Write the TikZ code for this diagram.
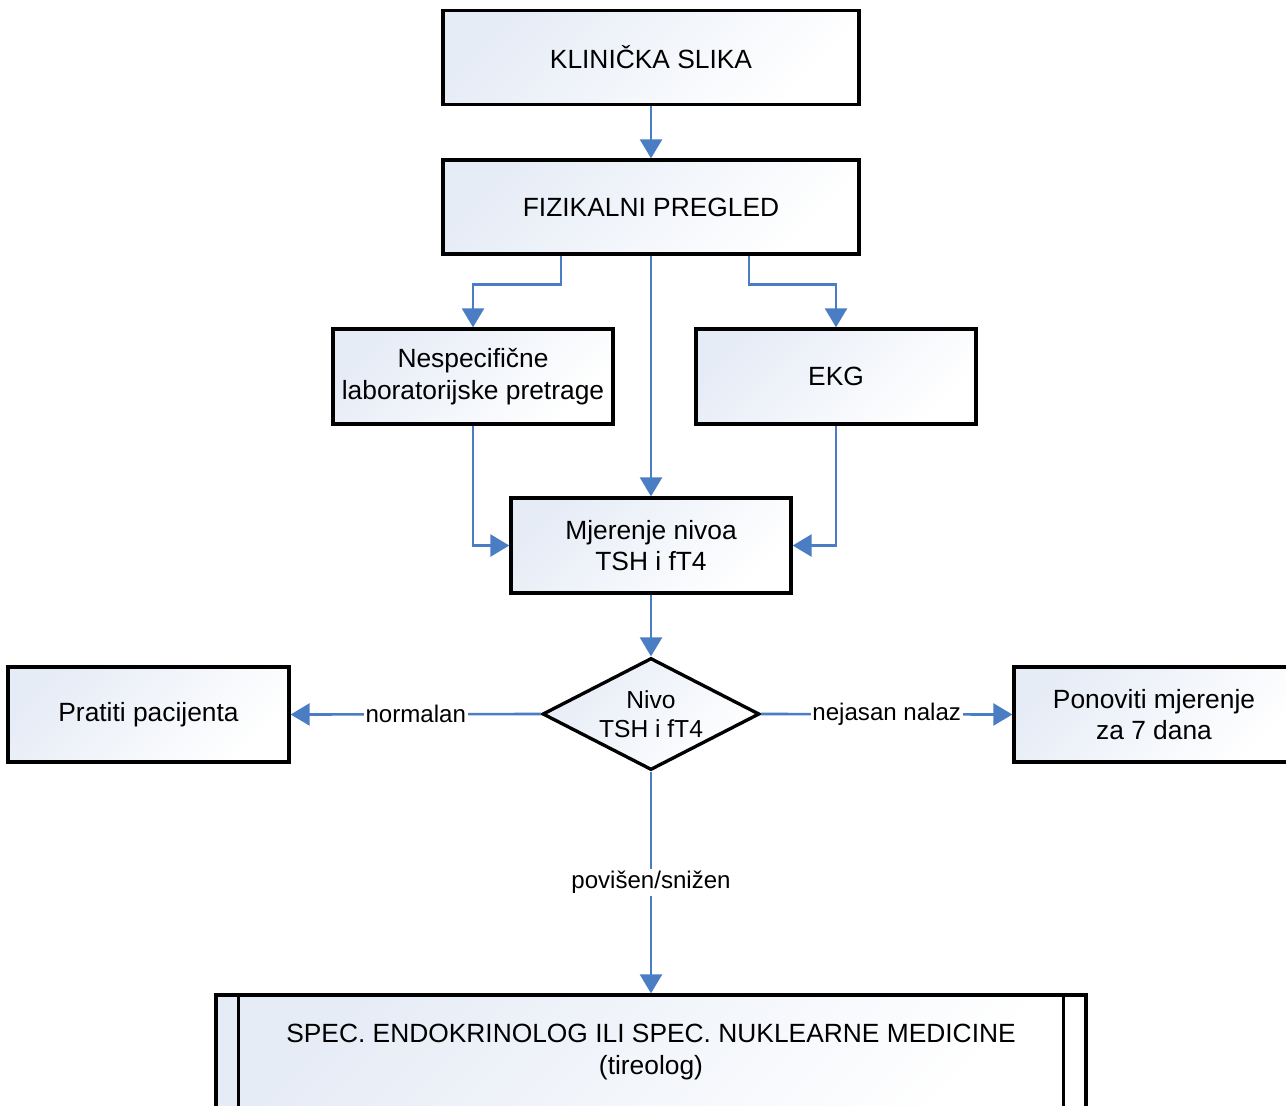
\documentclass[tikz,border=0pt]{standalone}
\usepackage{fontspec}
\setmainfont{Liberation Sans}
\usepackage{xcolor}
\usetikzlibrary{arrows.meta, shapes.geometric, calc}
\definecolor{flow-blue}{HTML}{4A7DC4}
\definecolor{box-fill}{HTML}{E6ECF6}

\begin{document}
\begin{tikzpicture}[
      every node/.style={font=\fontsize{15}{18}\selectfont},
      box/.style={draw=black, line width=1.9pt, rectangle, align=center,
          top color=box-fill, bottom color=white, shading angle=45,
          minimum width=5.6cm, minimum height=1.9cm},
      wide/.style={box, minimum width=8.32cm, minimum height=1.88cm},
      decision/.style={draw=black, line width=1.9pt, diamond, align=center,
          top color=box-fill, bottom color=white, shading angle=45,
          font=\fontsize{14}{16.5}\selectfont,
          inner sep=0pt, aspect=1.94, minimum width=4.34cm, minimum height=2.24cm},
      arr/.style={draw=flow-blue, line width=1.5pt,
          -{Triangle[width=0.44cm, length=0.38cm]}},
      lbl/.style={fill=white, inner sep=1pt,
          font=\fontsize{13.7}{16}\selectfont}]
    \clip (0,0) rectangle (25.72,-22.1);
    \node[wide] (KLIN) at (13.02,-1.15) {KLINIČKA SLIKA};
    \node[wide] (FIZ) at (13.02,-4.14) {FIZIKALNI PREGLED};
    \node[box] (NESP) at (9.46,-7.53) {Nespecifične\\laboratorijske pretrage};
    \node[box] (EKG) at (16.72,-7.53) {EKG};
    \node[box] (MJER) at (13.02,-10.91) {Mjerenje nivoa\\TSH i fT4};
    \node[decision] (NIVO) at (13.02,-14.28) {Nivo\\TSH i fT4};
    \node[box, minimum width=5.62cm] (PRAT) at (2.97,-14.29) {Pratiti pacijenta};
    \node[box] (PON) at (23.08,-14.29) {Ponoviti mjerenje\\za 7 dana};
    \node[box, minimum width=17.4cm, minimum height=2.28cm] (SPEC) at (13.02,-21.04)
          {SPEC. ENDOKRINOLOG ILI SPEC. NUKLEARNE MEDICINE\\(tireolog)};
    \draw[line width=1.9pt] ([xshift=0.48cm]SPEC.north west) -- ([xshift=0.48cm]SPEC.south west);
    \draw[line width=1.9pt] ([xshift=-0.48cm]SPEC.north east) -- ([xshift=-0.48cm]SPEC.south east);
    % connectors
    \draw[arr] (KLIN) -- (FIZ);
    \draw[arr] ([xshift=-1.8cm]FIZ.south) -- ++(0,-0.58) -| (NESP.north);
    \draw[arr] ([xshift=1.96cm]FIZ.south) -- ++(0,-0.58) -| (EKG.north);
    \draw[arr] (FIZ) -- (MJER);
    \draw[arr] (NESP.south) |- (MJER.west);
    \draw[arr] (EKG.south) |- (MJER.east);
    \draw[arr] (MJER) -- (NIVO);
    \draw[arr] (NIVO.west) -- node[lbl] {normalan} (PRAT.east);
    \draw[arr] (NIVO.east) -- node[lbl] {nejasan nalaz} (PON.west);
    \draw[arr] (NIVO.south) -- node[lbl] {povišen/snižen} (SPEC.north);
  \end{tikzpicture}
\end{document}
